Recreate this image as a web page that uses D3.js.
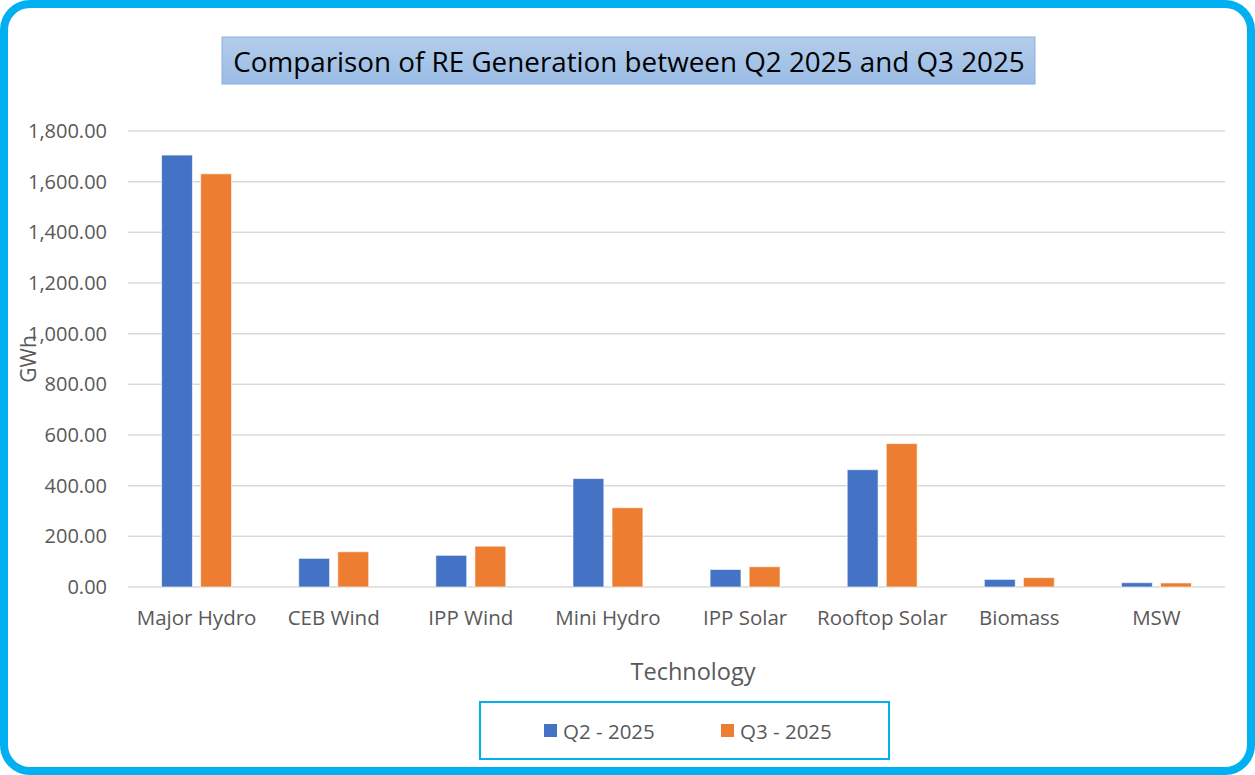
<!DOCTYPE html>
<html>
<head>
<meta charset="utf-8">
<script src="https://cdn.jsdelivr.net/npm/d3@7"></script>
<style>
	body { margin: 0; background: #fff; }
	svg text { font-family: "Open Sans", "Noto Sans", sans-serif; }
</style>
</head>
<body>
<svg id="chart" width="1255" height="775"></svg>
<script>
// chart data
var categories = ["Major Hydro", "CEB Wind", "IPP Wind", "Mini Hydro", "IPP Solar", "Rooftop Solar", "Biomass", "MSW"];
var seriesNames = ["Q2 - 2025", "Q3 - 2025"];
var q2Values = [1705, 113, 125, 428, 69, 463, 30, 17];
var q3Values = [1631, 139, 161, 313, 80, 566, 37, 16];
var yTicks = [0, 200, 400, 600, 800, 1000, 1200, 1400, 1600, 1800];
var colors = ["#4472C4", "#ED7D31"];

var svg = d3.select("#chart");

// outer frame
svg.append("rect")
	.attr("x", 4).attr("y", 4)
	.attr("width", 1247).attr("height", 767)
	.attr("rx", 26).attr("ry", 26)
	.style("fill", "#fff")
	.style("stroke", "#00B0F0")
	.style("stroke-width", 8);

// title box
var defs = svg.append("defs");
var grad = defs.append("linearGradient")
	.attr("id", "titleGrad")
	.attr("x1", 0).attr("y1", 0).attr("x2", 0).attr("y2", 1);
grad.append("stop").attr("offset", "0%").attr("stop-color", "#B3CDEB");
grad.append("stop").attr("offset", "100%").attr("stop-color", "#9BBCE5");

svg.append("rect")
	.attr("x", 222).attr("y", 37)
	.attr("width", 813).attr("height", 47)
	.style("fill", "url(#titleGrad)")
	.style("stroke", "#8EAEDC")
	.style("stroke-width", 1);

svg.append("text")
	.attr("x", 629).attr("y", 61)
	.attr("text-anchor", "middle")
	.attr("dominant-baseline", "central")
	.style("font-size", "27.8px")
	.style("fill", "#000")
	.text("Comparison of RE Generation between Q2 2025 and Q3 2025");

// plot area
var plotLeft = 128, plotRight = 1225, plotTop = 131, plotBottom = 587;

var x = d3.scaleBand()
	.domain(categories)
	.range([plotLeft, plotRight])
	.paddingInner(0.49)
	.paddingOuter(0.245);

var xInner = d3.scaleBand()
	.domain(seriesNames)
	.range([0, x.bandwidth()])
	.paddingInner(0.21);

var y = d3.scaleLinear()
	.domain([0, 1800])
	.range([plotBottom, plotTop]);

// gridlines
svg.append("g")
	.selectAll("line")
	.data(yTicks)
	.enter()
	.append("line")
	.attr("x1", plotLeft).attr("x2", plotRight)
	.attr("y1", function(d) {return y(d);})
	.attr("y2", function(d) {return y(d);})
	.style("stroke", "#D9D9D9")
	.style("stroke-width", 1.5);

// y axis labels
var yAxis = d3.axisLeft(y)
	.tickValues(yTicks)
	.tickSize(0)
	.tickPadding(0)
	.tickFormat(d3.format(",.2f"));

var yg = svg.append("g")
	.attr("transform", "translate(107,0)")
	.call(yAxis);
yg.select(".domain").remove();
yg.selectAll("text")
	.style("font-size", "20px")
	.style("fill", "#595959")
	.style("font-family", "\"Open Sans\", sans-serif");

// bars
var rows = categories.map(function(c, i) {
	return [
		{cat: c, series: seriesNames[0], value: q2Values[i], color: colors[0]},
		{cat: c, series: seriesNames[1], value: q3Values[i], color: colors[1]}
	];
});

var group = svg.append("g")
	.selectAll(".cat")
	.data(rows)
	.enter()
	.append("g")
	.attr("class", "cat")
	.attr("transform", function(d) {return "translate(" + x(d[0].cat) + ",0)";});

group.selectAll("rect")
	.data(function(d) {return d;})
	.enter()
	.append("rect")
	.attr("x", function(d) {return xInner(d.series);})
	.attr("y", function(d) {return y(d.value);})
	.attr("width", xInner.bandwidth())
	.attr("height", function(d) {return plotBottom - y(d.value);})
	.style("fill", function(d) {return d.color;})
	.style("stroke", "#fff")
	.style("stroke-opacity", 0.6)
	.style("stroke-width", 1);

// x axis labels
var xAxis = d3.axisBottom(x).tickSize(0).tickPadding(0);
var xg = svg.append("g")
	.attr("transform", "translate(0,610)")
	.call(xAxis);
xg.select(".domain").remove();
xg.selectAll("text")
	.style("font-size", "20.5px")
	.style("fill", "#595959")
	.style("font-family", "\"Open Sans\", sans-serif");

// axis titles
svg.append("text")
	.attr("x", 693).attr("y", 671)
	.attr("text-anchor", "middle")
	.attr("dominant-baseline", "central")
	.style("font-size", "23.5px")
	.style("fill", "#595959")
	.text("Technology");

svg.append("text")
	.attr("transform", "translate(28,359) rotate(-90)")
	.attr("text-anchor", "middle")
	.attr("dominant-baseline", "central")
	.style("font-size", "21px")
	.style("fill", "#595959")
	.text("GWh");

// legend
svg.append("rect")
	.attr("x", 480).attr("y", 702)
	.attr("width", 409).attr("height", 57)
	.style("fill", "#fff")
	.style("stroke", "#00B0F0")
	.style("stroke-width", 2);

var legend = svg.append("g")
	.selectAll(".leg")
	.data(seriesNames)
	.enter()
	.append("g")
	.attr("class", "leg")
	.attr("transform", function(d, i) {return "translate(" + (544 + i * 177) + ",724)";});

legend.append("rect")
	.attr("width", 13).attr("height", 13)
	.style("fill", function(d, i) {return colors[i];});

legend.append("text")
	.attr("x", 19).attr("y", 7)
	.attr("dominant-baseline", "central")
	.style("font-size", "20.5px")
	.style("fill", "#595959")
	.text(function(d) {return d;});
</script>
</body>
</html>
